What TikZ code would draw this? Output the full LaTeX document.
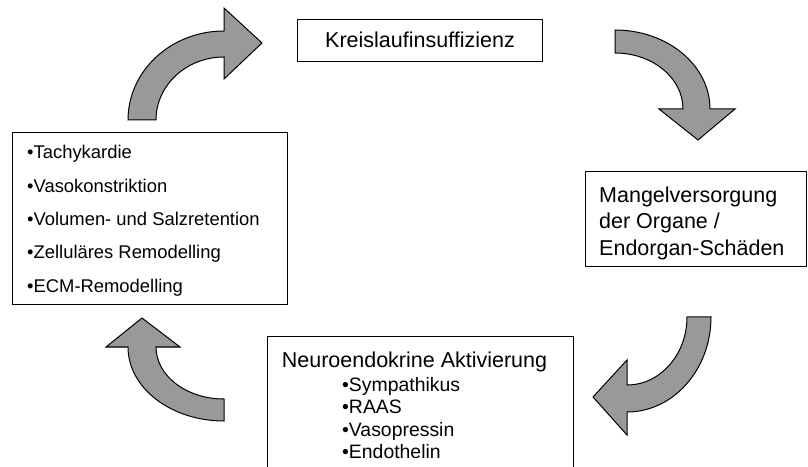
\documentclass[tikz,border=0pt]{standalone}
\usepackage{fontspec}
\setmainfont{Liberation Sans}
\definecolor{arrowgray}{RGB}{153,153,153}
\begin{document}
\begin{tikzpicture}[x=1pt,y=1pt,
  box/.style={draw=black,line width=1pt,inner sep=0pt,anchor=south west},
  cyc/.style={draw=black,line width=1pt,fill=arrowgray},
  bigtxt/.style={font=\fontsize{21.5}{26}\selectfont,inner sep=0pt},
  listtxt/.style={font=\fontsize{18.4}{22}\selectfont,inner sep=0pt,anchor=base west},
  subtxt/.style={font=\fontsize{19.4}{23}\selectfont,inner sep=0pt,anchor=base west}]
\useasboundingbox (0,0) rectangle (808,466);

% boxes
\node[box,minimum width=245pt,minimum height=42pt] (b1) at (297,404) {};
\node[box,minimum width=221pt,minimum height=95pt] (b2) at (585,199) {};
\node[box,minimum width=275pt,minimum height=172pt] (b3) at (12,161) {};
\node[box,minimum width=306pt,minimum height=140pt] (b4) at (267,-11) {};

% box 1 text
\node[bigtxt,anchor=base] (t1) at (420,418) {Kreislaufinsuffizienz};

% box 2 text
\node[bigtxt,anchor=base west] (t2a) at (599,263) {Mangelversorgung};
\node[bigtxt,anchor=base west] (t2b) at (599,237) {der Organe /};
\node[bigtxt,anchor=base west] (t2c) at (599,210) {Endorgan-Schäden};

% box 3 text
\node[listtxt] (t3a) at (27,307) {•Tachykardie};
\node[listtxt] (t3b) at (27,273) {•Vasokonstriktion};
\node[listtxt] (t3c) at (27,240) {•Volumen- und Salzretention};
\node[listtxt] (t3d) at (27,207) {•Zelluläres Remodelling};
\node[listtxt] (t3e) at (27,173) {•ECM-Remodelling};

% box 4 text
\node[bigtxt,anchor=base] (t4) at (414.5,99) {Neuroendokrine Aktivierung};
\node[subtxt] (t4a) at (342,75) {•Sympathikus};
\node[subtxt] (t4b) at (342,53) {•RAAS};
\node[subtxt] (t4c) at (342,30) {•Vasopressin};
\node[subtxt] (t4d) at (342,8) {•Endothelin};

% curved arrows
\path[cyc] (128,346) arc[start angle=180,end angle=90,x radius=96pt,y radius=89pt]
  -- (224,458) -- (262,423) -- (224,387) -- (224,409)
  arc[start angle=90,end angle=180,x radius=68pt,y radius=63pt] -- cycle;

\path[cyc] (615,436) arc[start angle=90,end angle=0,x radius=95pt,y radius=79pt]
  -- (735,357) -- (698,326) -- (659,357) -- (683,357)
  arc[start angle=0,end angle=90,x radius=68pt,y radius=56pt] -- cycle;

\path[cyc] (711,149) arc[start angle=0,end angle=-90,x radius=84pt,y radius=95pt]
  -- (627,31) -- (593,69) -- (627,106) -- (627,81)
  arc[start angle=-90,end angle=0,x radius=60pt,y radius=68pt] -- cycle;

\path[cyc] (224,45) arc[start angle=270,end angle=180,x radius=96pt,y radius=74pt]
  -- (106,119) -- (142,148) -- (180,119) -- (156,119)
  arc[start angle=180,end angle=270,x radius=68pt,y radius=52pt] -- cycle;
\end{tikzpicture}
\end{document}
